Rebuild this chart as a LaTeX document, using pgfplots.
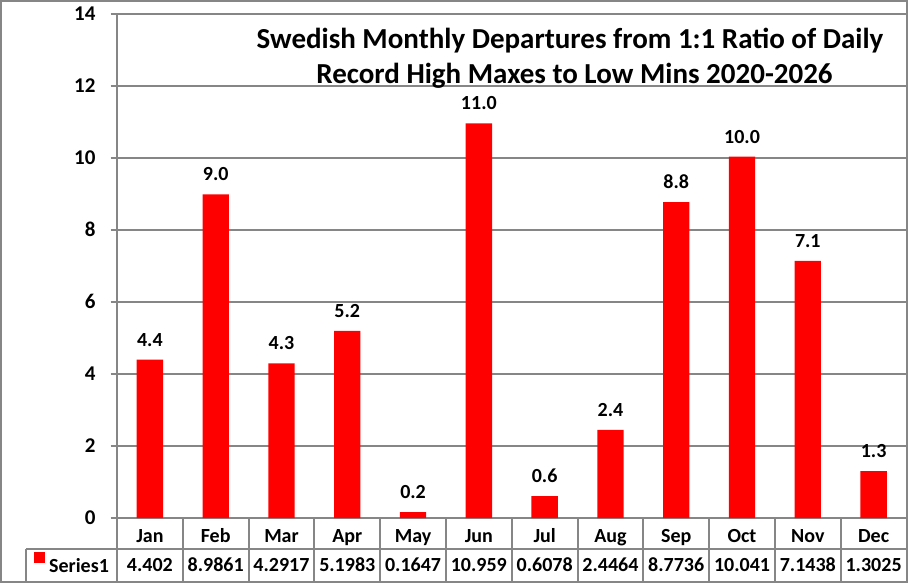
\documentclass[border=0pt]{standalone}
\usepackage{fontspec}
\setmainfont{Carlito}
\usepackage{pgfplots}
\usepackage{pgfplotstable}
\pgfplotsset{compat=1.18}
\definecolor{gridgray}{RGB}{134,134,134}
\definecolor{barred}{RGB}{255,0,0}

\pgfplotstableread{
x val
0 4.402
1 8.9861
2 4.2917
3 5.1983
4 0.1647
5 10.959
6 0.6078
7 2.4464
8 8.7736
9 10.041
10 7.1438
11 1.3025
}\datatable

\newcommand{\lblfont}{\fontsize{20bp}{24bp}\selectfont\bfseries}
\newcommand{\tickfont}{\fontsize{21bp}{25bp}\selectfont\bfseries}
\newcommand{\titlefont}{\fontsize{29bp}{35bp}\selectfont\bfseries}

\begin{document}
\begin{tikzpicture}
\useasboundingbox (0,0) rectangle (908bp,584bp);
\begin{axis}[
  at={(117bp,66bp)}, anchor=south west,
  scale only axis, width=789.5bp, height=504bp,
  xmin=-0.5, xmax=11.5, ymin=0, ymax=14,
  xtick={0,...,11},
  xticklabels={Jan,Feb,Mar,Apr,May,Jun,Jul,Aug,Sep,Oct,Nov,Dec},
  ytick={0,2,...,14},
  yticklabels={0,2,4,6,8,10,12,14},
  ymajorgrids,
  grid style={gridgray, line width=2bp},
  axis line style={gridgray, line width=2bp},
  tick pos=left,
  tick align=outside,
  major tick length=6.5bp,
  ytick style={gridgray, line width=2bp},
  xtick style={draw=none},
  clip=false,
  /pgf/number format/assume math mode=true,
  xticklabel style={font=\lblfont, text=black, anchor=base, yshift=-18bp},
  yticklabel style={font=\tickfont, text=black, anchor=base east, xshift=-11.5bp, yshift=-6.5bp},
]
\addplot[ybar, bar width=0.4, fill=barred, draw=none,
  nodes near coords={\pgfmathprintnumber[fixed,fixed zerofill,precision=1]{\pgfplotspointmeta}},
  every node near coord/.append style={font=\lblfont, anchor=base, yshift=13.5bp, inner sep=0pt, text=black}]
  table[x=x, y=val] {\datatable};
\addplot[draw=none, mark=none,
  nodes near coords={\pgfplotspointmeta}, point meta=explicit symbolic,
  every node near coord/.append style={font=\lblfont, anchor=base, yshift=-53bp, inner sep=0pt, text=black}]
  table[x=x, y expr=0, meta=val] {\datatable};
\end{axis}
% outer border
\draw[gridgray, line width=2bp] (1bp,2bp) rectangle (906.5bp,583bp);
% data table lines
\draw[gridgray, line width=2bp] (117bp,3bp) -- (117bp,66bp);
\draw[gridgray, line width=2bp] (26bp,3bp) -- (26bp,34.5bp);
\draw[gridgray, line width=2bp] (26bp,34.5bp) -- (906.5bp,34.5bp);
\foreach \k in {1,...,11} {
  \draw[gridgray, line width=2bp] ({(117+65.79*\k)*1bp},3bp) -- ({(117+65.79*\k)*1bp},66bp);
}
% legend key
\fill[barred] (34bp,21bp) rectangle (45bp,32bp);
\node[anchor=base west, inner sep=0pt, font=\lblfont] at (49bp,12bp) {Series1};
% title
\node[font=\titlefont, inner sep=0pt, anchor=base] at (570bp,535.7bp) {Swedish Monthly Departures from 1:1 Ratio of Daily};
\node[font=\titlefont, inner sep=0pt, anchor=base] at (574.5bp,500.7bp) {Record High Maxes to Low Mins 2020-2026};
\end{tikzpicture}
\end{document}
